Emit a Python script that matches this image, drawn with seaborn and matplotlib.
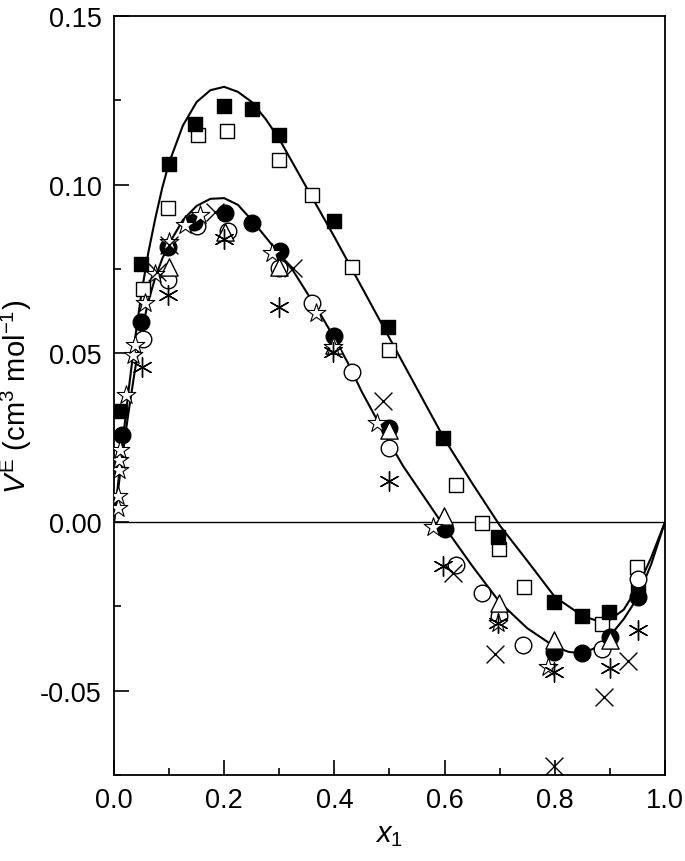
import matplotlib
matplotlib.use("Agg")
import matplotlib.pyplot as plt
from matplotlib.ticker import MultipleLocator, FormatStrFormatter
import seaborn as sns

# experimental points (x1, VE)
fsq_x = [0.011, 0.049, 0.10, 0.147, 0.20, 0.25, 0.30, 0.40, 0.497, 0.597, 0.697, 0.799, 0.849, 0.898, 0.951]
fsq_y = [0.033, 0.0766, 0.106, 0.118, 0.1234, 0.1225, 0.1148, 0.0893, 0.0579, 0.0249, -0.0045, -0.0237, -0.0278, -0.0268, -0.0193]

osq_x = [0.053, 0.098, 0.152, 0.205, 0.30, 0.36, 0.432, 0.50, 0.621, 0.668, 0.699, 0.744, 0.886, 0.949]
osq_y = [0.069, 0.0932, 0.1148, 0.116, 0.1074, 0.097, 0.0757, 0.051, 0.011, -0.0003, -0.008, -0.0193, -0.0303, -0.0134]

fci_x = [0.0145, 0.049, 0.098, 0.145, 0.201, 0.25, 0.301, 0.40, 0.50, 0.60, 0.799, 0.849, 0.90, 0.951]
fci_y = [0.0258, 0.0593, 0.0816, 0.089, 0.0917, 0.0887, 0.0804, 0.0552, 0.028, -0.0021, -0.0386, -0.0389, -0.034, -0.0222]

oci_x = [0.053, 0.098, 0.151, 0.207, 0.30, 0.359, 0.432, 0.499, 0.621, 0.668, 0.699, 0.742, 0.886, 0.951]
oci_y = [0.0543, 0.0718, 0.0878, 0.0864, 0.0754, 0.065, 0.0445, 0.022, -0.0128, -0.021, -0.028, -0.0365, -0.0377, -0.017]

tri_x = [0.10, 0.201, 0.30, 0.40, 0.499, 0.599, 0.699, 0.799, 0.90]
tri_y = [0.0757, 0.086, 0.0757, 0.0525, 0.0273, 0.0018, -0.024, -0.035, -0.035]

star_x = [0.007, 0.007, 0.009, 0.009, 0.011, 0.022, 0.035, 0.038, 0.056, 0.075, 0.10, 0.129, 0.156,
          0.287, 0.367, 0.397, 0.477, 0.579, 0.697, 0.788]
star_y = [0.004, 0.0077, 0.0154, 0.0184, 0.0214, 0.0377, 0.0496, 0.0525, 0.065, 0.0735, 0.083, 0.088, 0.091,
          0.0798, 0.062, 0.052, 0.0294, -0.0015, -0.030, -0.043]

cross_x = [0.078, 0.10, 0.183, 0.325, 0.488, 0.615, 0.692, 0.799, 0.889, 0.933]
cross_y = [0.074, 0.082, 0.092, 0.0754, 0.036, -0.0151, -0.039, -0.0724, -0.052, -0.0412]

ast_x = [0.051, 0.098, 0.20, 0.30, 0.397, 0.499, 0.597, 0.697, 0.799, 0.90, 0.951]
ast_y = [0.046, 0.0674, 0.084, 0.0638, 0.0504, 0.0122, -0.013, -0.030, -0.0445, -0.0433, -0.032]

# fitted curves
up_x = [0.0, 0.0125, 0.025, 0.0375, 0.05, 0.0625, 0.075, 0.0875, 0.10, 0.125, 0.15, 0.175, 0.20, 0.225,
        0.25, 0.275, 0.30, 0.35, 0.40, 0.45, 0.50, 0.55, 0.60, 0.65, 0.70, 0.75, 0.80, 0.85, 0.875,
        0.90, 0.925, 0.95, 0.975, 1.0]
up_y = [0.0, 0.019, 0.037, 0.0535, 0.068, 0.080, 0.090, 0.099, 0.1065, 0.1175, 0.1245, 0.128, 0.129, 0.1275,
        0.1245, 0.1195, 0.1135, 0.099, 0.0845, 0.0695, 0.0545, 0.0395, 0.0245, 0.0115, -0.001, -0.0115,
        -0.0222, -0.0278, -0.0292, -0.029, -0.026, -0.0195, -0.0105, 0.0]

lo_x = [0.0, 0.0125, 0.025, 0.0375, 0.05, 0.0625, 0.075, 0.0875, 0.10, 0.125, 0.15, 0.175, 0.20, 0.225,
        0.25, 0.275, 0.30, 0.325, 0.35, 0.375, 0.40, 0.425, 0.45, 0.475, 0.50, 0.525, 0.55, 0.575, 0.60,
        0.65, 0.70, 0.75, 0.80, 0.825, 0.85, 0.875, 0.90, 0.925, 0.95, 0.975, 1.0]
lo_y = [0.0, 0.016, 0.031, 0.0445, 0.0565, 0.0655, 0.0725, 0.078, 0.0825, 0.0895, 0.0937, 0.0958, 0.096, 0.094,
        0.0895, 0.0845, 0.0795, 0.0745, 0.068, 0.0615, 0.0545, 0.047, 0.0385, 0.031, 0.0235, 0.0165, 0.0105,
        0.0045, -0.0015, -0.013, -0.0238, -0.0315, -0.037, -0.0385, -0.039, -0.0372, -0.0338, -0.0288,
        -0.0225, -0.0125, 0.0]

sns.set_style("ticks")
plt.rcParams['font.family'] = ['Liberation Sans', 'DejaVu Sans']
plt.rcParams['mathtext.fontset'] = 'custom'
plt.rcParams['mathtext.rm'] = 'Liberation Sans'
plt.rcParams['mathtext.it'] = 'Liberation Sans:italic'
plt.rcParams['text.color'] = 'black'
plt.rcParams['axes.labelcolor'] = 'black'

fig = plt.figure(figsize=(6.85, 8.62), dpi=100)
ax = fig.add_axes([0.1664, 0.0998, 0.8044, 0.8805])

ax.axhline(0, color='black', lw=1.0, zorder=1)
sns.lineplot(x=up_x, y=up_y, ax=ax, color='black', lw=1.5, zorder=2)
sns.lineplot(x=lo_x, y=lo_y, ax=ax, color='black', lw=1.5, zorder=2)

ms = 110
kw = dict(ax=ax, edgecolor='black', linewidth=1.0, zorder=3)
sns.scatterplot(x=osq_x, y=osq_y, marker='s', s=ms, color='white', **kw)
sns.scatterplot(x=fsq_x, y=fsq_y, marker='s', s=ms, color='black', **kw)
sns.scatterplot(x=oci_x, y=oci_y, marker='o', s=ms * 1.3, color='white', **kw)
sns.scatterplot(x=fci_x, y=fci_y, marker='o', s=ms * 1.3, color='black', **kw)
sns.scatterplot(x=tri_x, y=tri_y, marker='^', s=ms * 1.4, color='white', **kw)
sns.scatterplot(x=star_x, y=star_y, marker='*', s=ms * 1.8, color='white', ax=ax,
                edgecolor='black', linewidth=0.8, zorder=4)
sns.scatterplot(x=cross_x, y=cross_y, marker='x', s=ms * 1.5, color='black', ax=ax,
                linewidth=1.0, zorder=4)
sns.scatterplot(x=ast_x, y=ast_y, marker=(6, 2, 0), s=ms * 1.8, color='black', ax=ax,
                linewidth=1.0, zorder=4)

ax.set_xlim(0, 1.0)
ax.set_ylim(-0.075, 0.15)
ax.xaxis.set_major_locator(MultipleLocator(0.2))
ax.xaxis.set_minor_locator(MultipleLocator(0.1))
ax.yaxis.set_major_locator(MultipleLocator(0.05))
ax.yaxis.set_minor_locator(MultipleLocator(0.025))
ax.xaxis.set_major_formatter(FormatStrFormatter('%.1f'))
ax.yaxis.set_major_formatter(FormatStrFormatter('%.2f'))
ax.tick_params(which='major', direction='in', length=11, width=1.2, labelsize=19.5, pad=9,
               colors='black', labelcolor='black')
ax.tick_params(which='minor', direction='in', length=5, width=1.2, colors='black')
for sp in ax.spines.values():
    sp.set_linewidth(1.3)
    sp.set_color('black')

ax.set_xlabel('$x_1$', fontsize=21, labelpad=5, color='black')
ax.set_ylabel(r'$V^{\mathrm{E}}$ (cm$^3$ mol$^{-1}$)', fontsize=21, labelpad=4, color='black')

fig.savefig('out.png', dpi=100)
plt.close(fig)
